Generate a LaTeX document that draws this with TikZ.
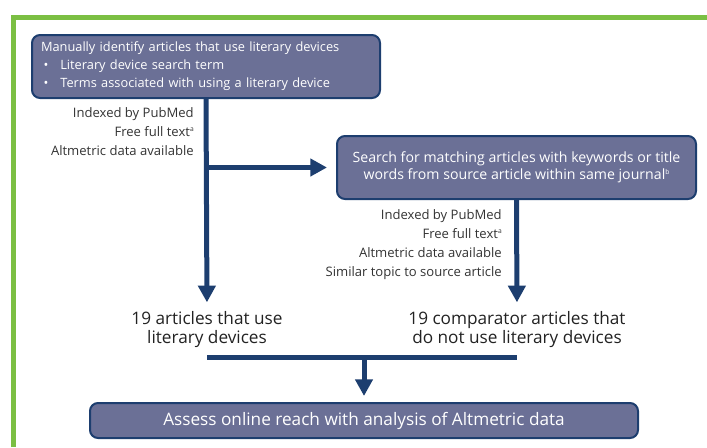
\documentclass[tikz,border=0pt]{standalone}
\usepackage{fontspec}
\setmainfont{Open Sans}
\usetikzlibrary{arrows.meta}

\definecolor{boxfill}{HTML}{6B7096}
\definecolor{navy}{HTML}{1D3E6F}
\definecolor{framegreen}{HTML}{7BBF43}
\definecolor{crittext}{HTML}{333333}
\definecolor{counttext}{HTML}{222222}

\newcommand{\supnote}[1]{\raisebox{0.75ex}{\fontsize{5pt}{5pt}\selectfont #1}}
\newcommand{\bulletitem}[1]{\makebox[14.5pt][l]{\hspace{2pt}\textbullet}#1}

\begin{document}
\begin{tikzpicture}[x = 0.75pt, y = -0.75pt,
  stepbox/.style = {draw = navy, line width = 1.5pt, fill = boxfill, text = white,
    rounded corners = 6pt, inner sep = 0pt,
    font = \fontsize{9.6pt}{13.5pt}\selectfont},
  critlist/.style = {text = crittext, align = right, inner sep = 0pt,
    font = \fontsize{9.8pt}{14.25pt}\selectfont},
  countlabel/.style = {text = counttext, align = center, inner sep = 0pt,
    font = \fontsize{12.9pt}{14.5pt}\selectfont},
  flowline/.style = {draw = navy, line width = 3.75pt},
  flowarrow/.style = {flowline, -{Triangle[width = 12.75pt, length = 12.5pt]}}]
\useasboundingbox (0, 0) rectangle (707, 447);

% green frame
\draw[framegreen, line width = 3.75pt] (13.5, 447) -- (13.5, 17.5) -- (707, 17.5);

% boxes
\node[stepbox, minimum width = 261pt, minimum height = 47.25pt,
  text width = 247.5pt, align = left] (identify) at (206, 66.5)
  {Manually identify articles that use literary devices\\
   \bulletitem{Literary device search term}\\
   \bulletitem{Terms associated with using a literary device}};
\node[stepbox, minimum width = 269.25pt, minimum height = 47.25pt,
  align = center, font = \fontsize{10.6pt}{13pt}\selectfont] (search) at (516.5, 167.5)
  {Search for matching articles with keywords or title\\
   words from source article within same journal\supnote{b}};
\node[stepbox, minimum width = 411pt, minimum height = 26.25pt,
  font = \fontsize{12.9pt}{14pt}\selectfont] (assess) at (364, 420.5)
  {Assess online reach with analysis of Altmetric data};

% criteria
\node[critlist, anchor = east] (critleft) at (194, 132)
  {Indexed by PubMed\\ Free full text\supnote{a}\\ Altmetric data available};
\node[critlist, anchor = east] (critright) at (502, 245)
  {Indexed by PubMed\\ Free full text\supnote{a}\\ Altmetric data available\\
   Similar topic to source article};

% counts
\node[countlabel, anchor = north] (usedevices) at (207, 311)
  {19 articles that use\\ literary devices};
\node[countlabel, anchor = north] (comparators) at (517, 311)
  {19 comparator articles that\\ do not use literary devices};

% connectors
\coordinate (branch) at (identify.south |- search.west);
\coordinate (joinleft) at (207, 357);
\coordinate (joinright) at (517, 357);
\draw[flowarrow, shorten > = 6.5pt] (identify.south) -- (usedevices.north);
\draw[flowarrow, shorten > = 6.75pt] (branch) -- (search.west);
\draw[flowarrow, shorten > = 6.5pt] (search.south) -- (comparators.north);
\draw[flowline] (joinleft) -- (joinright);
\draw[flowarrow, shorten > = 4.5pt] (joinleft -| assess.north) -- (assess.north);
\end{tikzpicture}
\end{document}
